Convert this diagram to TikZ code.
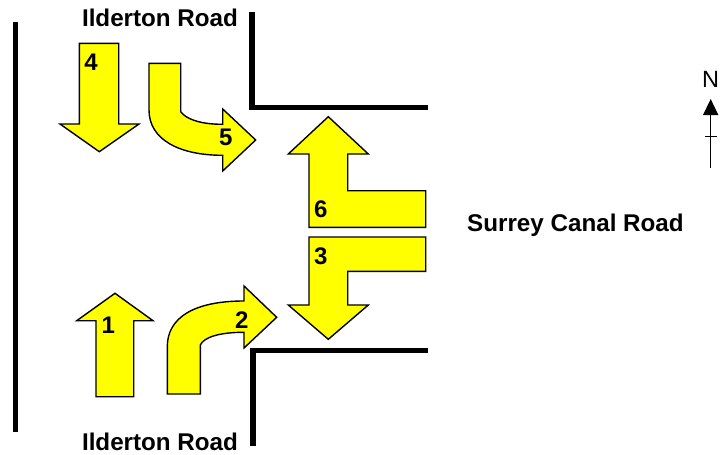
\documentclass[tikz,border=0pt]{standalone}
\usepackage{fontspec}
\setmainfont{Liberation Sans}
\usetikzlibrary{arrows.meta}
\definecolor{arrowyellow}{RGB}{255,255,0}
\tikzset{
	turnarrow/.style={draw=black, fill=arrowyellow, line width=1.4pt, line join=miter},
	wall/.style={draw=black, line width=5.8pt, line cap=butt, line join=miter},
	roadname/.style={font=\fontsize{24.2}{26}\selectfont\bfseries, inner sep=0pt},
	turnnum/.style={font=\fontsize{24}{26}\selectfont\bfseries, inner sep=0pt},
}
\begin{document}
\begin{tikzpicture}[x=1pt, y=-1pt]
	\useasboundingbox (0,0) rectangle (724,455);
	\draw[wall] (15.5,22) -- (15.5,432);
	\draw[wall] (252,12) -- (252,107.5) -- (428,107.5);
	\draw[wall] (253,446) -- (253,350.5) -- (428,350.5);
	\draw[turnarrow] (79.3,43.3) -- (118.7,43.3) -- (118.7,124) -- (139,124) -- (99.3,151.7) -- (60,124) -- (79.3,124) -- cycle;
	\draw[turnarrow] (149,63.3) -- (180.7,63.3) -- (180.7,111.7) .. controls (186,119) and (200,124.3) .. (222.7,124.3) -- (222.7,109) -- (255.7,140) -- (222.7,171) -- (222.7,155.3) .. controls (180,155.3) and (149,140) .. (149,110) -- cycle;
	\draw[turnarrow] (96,396.7) -- (133.7,396.7) -- (133.7,320.7) -- (153,320.7) -- (115,293.3) -- (76.7,320.7) -- (96,320.7) -- cycle;
	\draw[turnarrow] (167.3,394) -- (200.3,394) -- (200.3,345) .. controls (204,337) and (220,332.3) .. (244,332.3) -- (244,348) -- (276.7,317.3) -- (244,286) -- (244,301) .. controls (195,301) and (167.3,317) .. (167.3,346.7) -- cycle;
	\draw[turnarrow] (328.3,116.7) -- (368.3,154) -- (347.7,154) -- (347.7,190.7) -- (425.7,190.7) -- (425.7,227.3) -- (309,227.3) -- (309,154) -- (288.3,154) -- cycle;
	\draw[turnarrow] (309,237) -- (425.7,237) -- (425.7,271.3) -- (347.7,271.3) -- (347.7,305) -- (368.3,305) -- (328.3,339.3) -- (288.3,305) -- (309,305) -- cycle;
	\node[turnnum] (num1) at (108.3,325.7) {1};
	\node[turnnum] (num2) at (241.7,320) {2};
	\node[turnnum] (num3) at (320.7,256) {3};
	\node[turnnum] (num4) at (91,62.3) {4};
	\node[turnnum] (num5) at (225.7,137.7) {5};
	\node[turnnum] (num6) at (320.7,209) {6};
	\node[roadname] (ildertonN) at (160,18) {Ilderton Road};
	\node[roadname] (ildertonS) at (160,442) {Ilderton Road};
	\node[roadname] (surrey) at (575.5,225) {Surrey Canal Road};
	\node[font=\fontsize{23.5}{26}\selectfont, inner sep=0pt] (north) at (710.5,79.5) {N};
	\coordinate (northfoot) at (710.7,167.7);
	\coordinate (northtip) at (710.7,99);
	\coordinate (tickW) at (705,136.5);
	\coordinate (tickE) at (716.5,136.5);
	\draw[-{Triangle[length=16pt,width=15pt]}, line width=1.5pt] (northfoot) -- (northtip);
	\draw[line width=1.5pt] (tickW) -- (tickE);
\end{tikzpicture}
\end{document}
